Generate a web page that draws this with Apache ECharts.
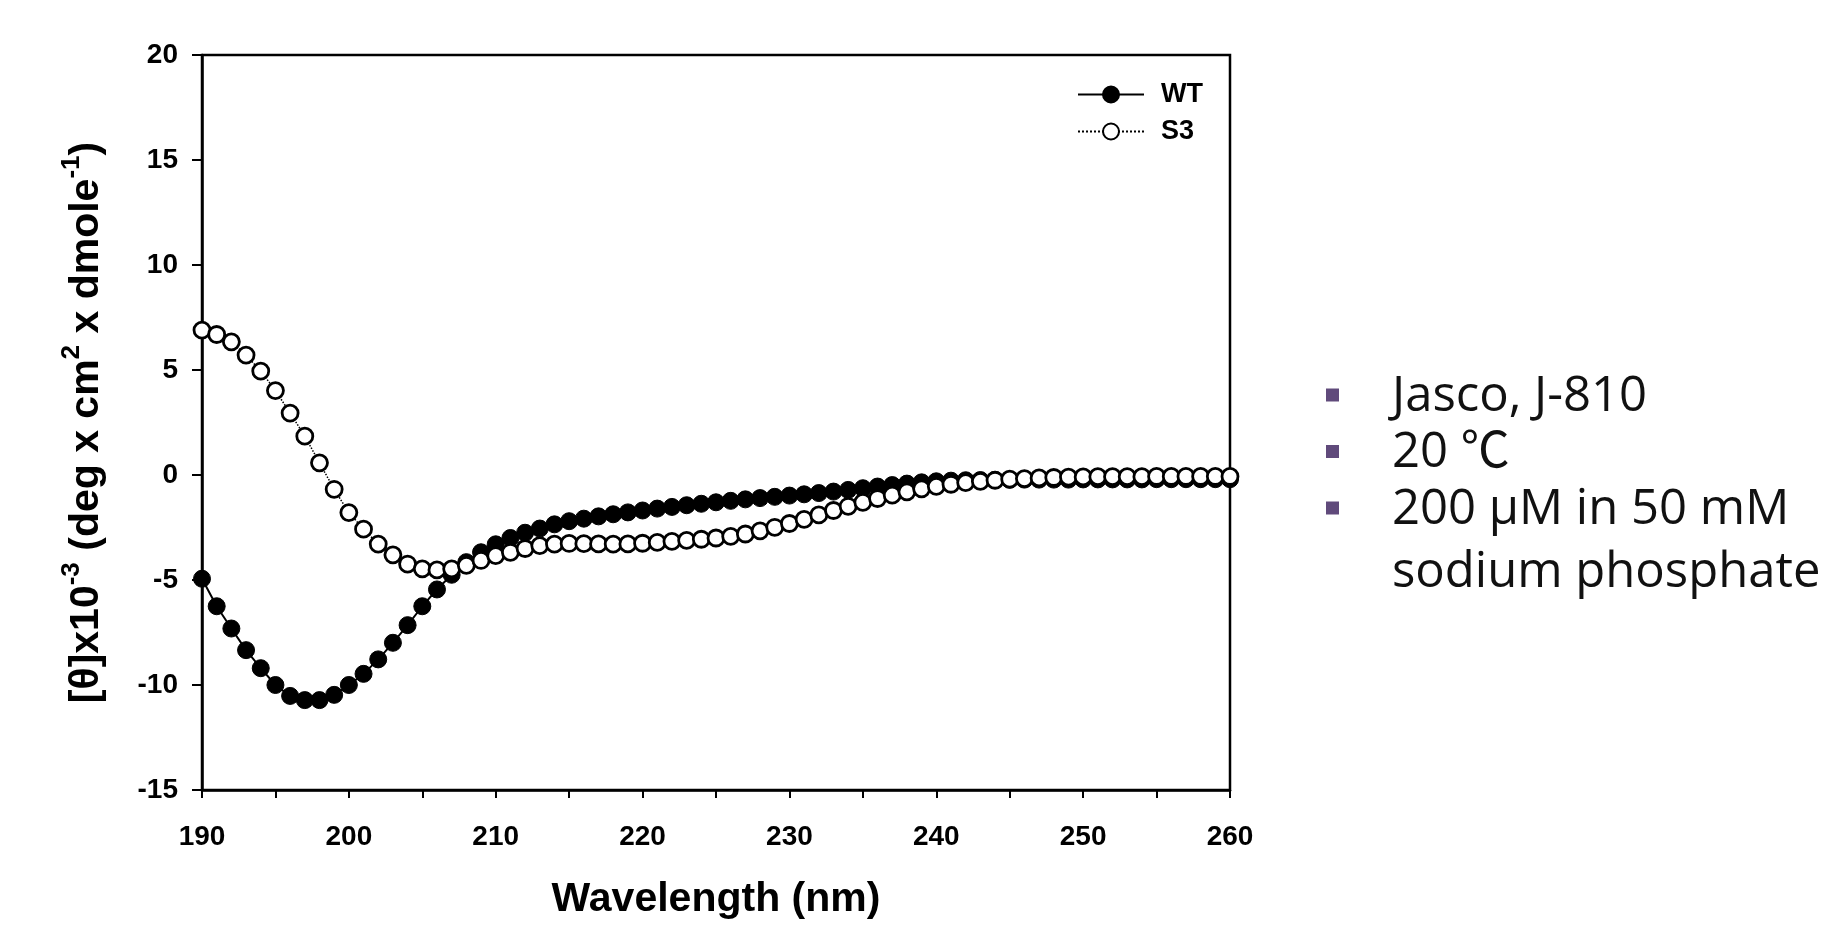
<!DOCTYPE html>
<html>
<head>
<meta charset="utf-8">
<title>CD spectra WT / S3</title>
<script src="https://cdn.jsdelivr.net/npm/echarts@6/dist/echarts.min.js"></script>
<style>
  html, body { margin: 0; padding: 0; background: #ffffff; }
  #chart { width: 1825px; height: 925px; }
</style>
</head>
<body>
<div id="chart"></div>
<script>
// Wavelength grid (nm)
const wavelengths = [
  190, 191, 192, 193, 194, 195, 196, 197, 198, 199,
  200, 201, 202, 203, 204, 205, 206, 207, 208, 209,
  210, 211, 212, 213, 214, 215, 216, 217, 218, 219,
  220, 221, 222, 223, 224, 225, 226, 227, 228, 229,
  230, 231, 232, 233, 234, 235, 236, 237, 238, 239,
  240, 241, 242, 243, 244, 245, 246, 247, 248, 249,
  250, 251, 252, 253, 254, 255, 256, 257, 258, 259, 260
];

// Mean residue ellipticity x10^-3, wild type
const wtValues = [
  -4.94, -6.25, -7.31, -8.34, -9.20, -10.00, -10.52, -10.72, -10.72, -10.47,
  -10.00, -9.47, -8.78, -7.99, -7.15, -6.25, -5.45, -4.75, -4.15, -3.68,
  -3.30, -3.00, -2.75, -2.55, -2.35, -2.20, -2.08, -1.97, -1.87, -1.78,
  -1.69, -1.60, -1.52, -1.44, -1.37, -1.30, -1.23, -1.16, -1.10, -1.04,
  -0.98, -0.92, -0.86, -0.79, -0.71, -0.63, -0.55, -0.48, -0.41, -0.35,
  -0.30, -0.27, -0.25, -0.24, -0.23, -0.23, -0.22, -0.22, -0.22, -0.22,
  -0.21, -0.21, -0.21, -0.21, -0.21, -0.20, -0.20, -0.20, -0.20, -0.20, -0.20
];

// Mean residue ellipticity x10^-3, S3 variant
const s3Values = [
  6.90, 6.69, 6.34, 5.71, 4.95, 4.02, 2.95, 1.85, 0.58, -0.68,
  -1.79, -2.58, -3.29, -3.80, -4.24, -4.47, -4.52, -4.47, -4.30, -4.07,
  -3.84, -3.68, -3.50, -3.36, -3.29, -3.26, -3.27, -3.28, -3.29, -3.28,
  -3.25, -3.21, -3.16, -3.11, -3.06, -3.00, -2.92, -2.81, -2.66, -2.49,
  -2.31, -2.11, -1.90, -1.69, -1.49, -1.30, -1.12, -0.96, -0.80, -0.66,
  -0.54, -0.44, -0.36, -0.30, -0.25, -0.20, -0.17, -0.14, -0.12, -0.10,
  -0.09, -0.08, -0.08, -0.08, -0.08, -0.07, -0.07, -0.07, -0.07, -0.07, -0.07
];

// Measurement conditions listed beside the plot
const conditionLines = ['Jasco, J-810', '20 \u2103', '200 \u03bcM in 50 mM'];
const conditionWrap = 'sodium phosphate';

const seriesNames = ['WT', 'S3'];

const pairs = (xs, ys) => xs.map((x, i) => [x, ys[i]]);

const chart = echarts.init(document.getElementById('chart'), null, { renderer: 'canvas' });

const axisFont = 'Liberation Sans, Arial, Helvetica, sans-serif';
const noteFont = '"Open Sans", "Noto Sans CJK KR", sans-serif';
const noteSize = 49;

const graphics = [];
const bulletX = 1326, firstRowY = 395, rowStep = 56.5;
conditionLines.forEach((txt, i) => {
  const cy = firstRowY + i * rowStep;
  graphics.push({
    type: 'rect',
    shape: { x: bulletX, y: cy - 6.5, width: 13, height: 13 },
    style: { fill: '#604A7B' }
  });
  graphics.push({
    type: 'text',
    x: 1392, y: cy + 2,
    style: { text: txt, font: noteSize + 'px ' + noteFont, fill: '#111', verticalAlign: 'middle', align: 'left' }
  });
});
// Wrapped continuation of the last condition line
graphics.push({
  type: 'text',
  x: 1392, y: firstRowY + 3 * rowStep + 9,
  style: { text: conditionWrap, font: noteSize + 'px ' + noteFont, fill: '#111', verticalAlign: 'middle', align: 'left' }
});

const option = {
  backgroundColor: '#ffffff',
  animation: false,
  grid: {
    left: 202, right: 595, top: 55, bottom: 131,
    show: true, borderColor: '#000', borderWidth: 2.5, backgroundColor: 'transparent'
  },
  legend: {
    left: 1072, top: 76,
    orient: 'vertical',
    itemWidth: 66, itemHeight: 20, itemGap: 10,
    textStyle: { fontFamily: axisFont, fontWeight: 'bold', fontSize: 27, color: '#000', padding: [0, 0, 0, 12] },
    data: seriesNames
  },
  xAxis: {
    type: 'value',
    min: 190, max: 260, interval: 10,
    name: 'Wavelength (nm)',
    nameLocation: 'middle',
    nameGap: 89,
    nameTextStyle: { fontFamily: axisFont, fontWeight: 'bold', fontSize: 41, color: '#000' },
    axisLine: { show: true, onZero: false, lineStyle: { color: '#000', width: 2.5 } },
    axisTick: { show: true, inside: false, length: 8, lineStyle: { color: '#000', width: 2 } },
    minorTick: { show: true, splitNumber: 2, length: 8, lineStyle: { color: '#000', width: 2 } },
    axisLabel: { margin: 33, fontFamily: axisFont, fontWeight: 'bold', fontSize: 28, color: '#000' },
    splitLine: { show: false }
  },
  yAxis: {
    type: 'value',
    min: -15, max: 20, interval: 5,
    name: '{t|[\u03b8]x10}{s|-3}{t| (deg x cm}{s|2}{t| x dmole}{s|-1}{t|)}',
    nameLocation: 'middle',
    nameRotate: 90,
    nameGap: 95,
    nameTextStyle: {
      rich: {
        t: { fontFamily: axisFont, fontWeight: 'bold', fontSize: 41, color: '#000', lineHeight: 48, verticalAlign: 'bottom' },
        s: { fontFamily: axisFont, fontWeight: 'bold', fontSize: 26, color: '#000', lineHeight: 48, verticalAlign: 'top', padding: [0, 0, 12, 0] }
      }
    },
    axisLine: { show: true, onZero: false, lineStyle: { color: '#000', width: 2.5 } },
    axisTick: { show: true, inside: false, length: 10, lineStyle: { color: '#000', width: 2 } },
    axisLabel: { margin: 24, fontFamily: axisFont, fontWeight: 'bold', fontSize: 28, color: '#000' },
    splitLine: { show: false }
  },
  series: [
    {
      name: seriesNames[0],
      type: 'line',
      data: pairs(wavelengths, wtValues),
      symbol: 'circle',
      symbolSize: 17,
      showAllSymbol: true,
      itemStyle: { color: '#000', borderColor: '#000', borderWidth: 1 },
      lineStyle: { color: '#000', width: 2, type: 'solid' },
      z: 2
    },
    {
      name: seriesNames[1],
      type: 'line',
      data: pairs(wavelengths, s3Values),
      symbol: 'circle',
      symbolSize: 16,
      showAllSymbol: true,
      itemStyle: { color: '#fff', borderColor: '#000', borderWidth: 2.8 },
      lineStyle: { color: '#000', width: 1.5, type: 'dotted' },
      z: 3
    }
  ],
  graphic: graphics
};

chart.setOption(option);
</script>
</body>
</html>
